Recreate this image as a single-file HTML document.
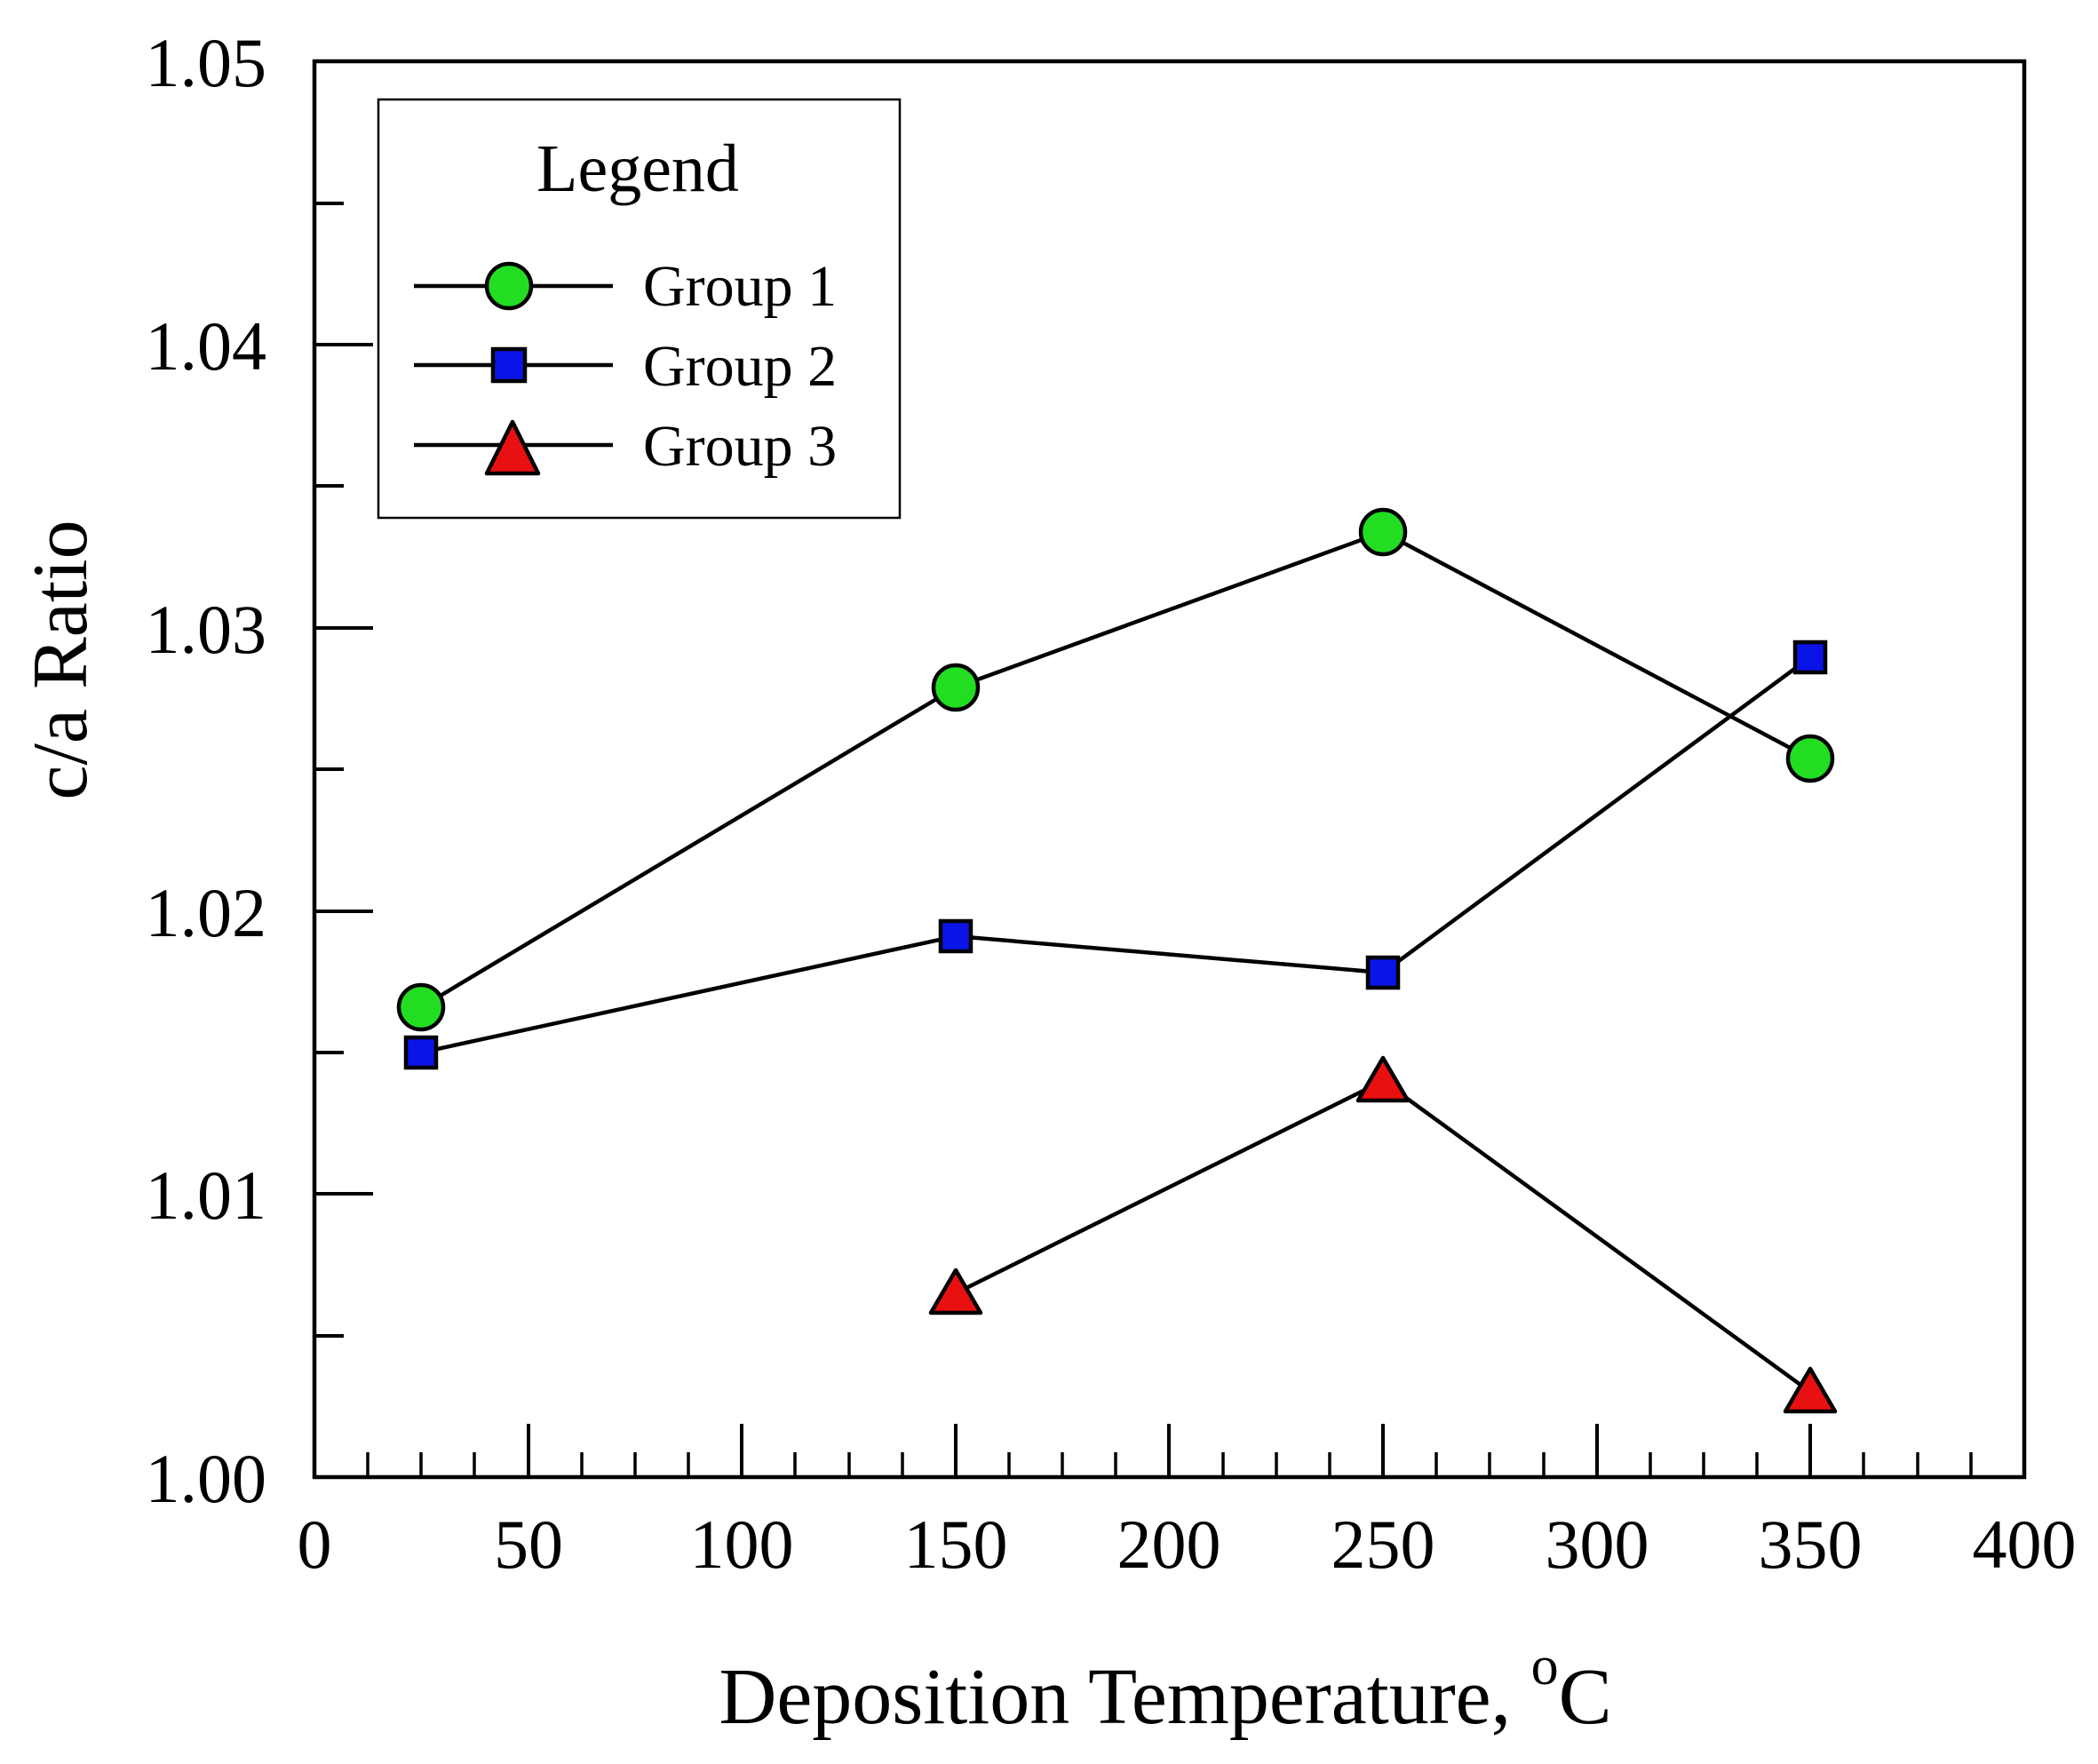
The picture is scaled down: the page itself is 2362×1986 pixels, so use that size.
<!DOCTYPE html>
<html><head><meta charset="utf-8"><style>html,body{margin:0;padding:0;background:#fff}svg{display:block}</style></head>
<body>
<svg width="2362" height="1986" viewBox="0 0 2362 1986" xmlns="http://www.w3.org/2000/svg" font-family="Liberation Serif, serif" fill="#000">
<rect width="2362" height="1986" fill="#fff"/>
<rect x="354" y="69" width="1925" height="1594" fill="none" stroke="#000" stroke-width="4.5"/>
<g stroke="#000" stroke-width="4">
<line x1="354" y1="1344" x2="420" y2="1344"/>
<line x1="354" y1="1026" x2="420" y2="1026"/>
<line x1="354" y1="707" x2="420" y2="707"/>
<line x1="354" y1="388" x2="420" y2="388"/>
<line x1="354" y1="1504" x2="387" y2="1504"/>
<line x1="354" y1="1185" x2="387" y2="1185"/>
<line x1="354" y1="866" x2="387" y2="866"/>
<line x1="354" y1="547" x2="387" y2="547"/>
<line x1="354" y1="229" x2="387" y2="229"/>
<line x1="595" y1="1663" x2="595" y2="1603"/>
<line x1="835" y1="1663" x2="835" y2="1603"/>
<line x1="1076" y1="1663" x2="1076" y2="1603"/>
<line x1="1316" y1="1663" x2="1316" y2="1603"/>
<line x1="1557" y1="1663" x2="1557" y2="1603"/>
<line x1="1798" y1="1663" x2="1798" y2="1603"/>
<line x1="2038" y1="1663" x2="2038" y2="1603"/>
</g>
<g stroke="#000" stroke-width="3.5">
<line x1="414" y1="1663" x2="414" y2="1635"/><line x1="474" y1="1663" x2="474" y2="1635"/><line x1="534" y1="1663" x2="534" y2="1635"/>
<line x1="655" y1="1663" x2="655" y2="1635"/><line x1="715" y1="1663" x2="715" y2="1635"/><line x1="775" y1="1663" x2="775" y2="1635"/>
<line x1="895" y1="1663" x2="895" y2="1635"/><line x1="956" y1="1663" x2="956" y2="1635"/><line x1="1016" y1="1663" x2="1016" y2="1635"/>
<line x1="1136" y1="1663" x2="1136" y2="1635"/><line x1="1196" y1="1663" x2="1196" y2="1635"/><line x1="1256" y1="1663" x2="1256" y2="1635"/>
<line x1="1377" y1="1663" x2="1377" y2="1635"/><line x1="1437" y1="1663" x2="1437" y2="1635"/><line x1="1497" y1="1663" x2="1497" y2="1635"/>
<line x1="1617" y1="1663" x2="1617" y2="1635"/><line x1="1677" y1="1663" x2="1677" y2="1635"/><line x1="1738" y1="1663" x2="1738" y2="1635"/>
<line x1="1858" y1="1663" x2="1858" y2="1635"/><line x1="1918" y1="1663" x2="1918" y2="1635"/><line x1="1978" y1="1663" x2="1978" y2="1635"/>
<line x1="2098" y1="1663" x2="2098" y2="1635"/><line x1="2159" y1="1663" x2="2159" y2="1635"/><line x1="2219" y1="1663" x2="2219" y2="1635"/>
</g>
<g font-size="78" text-anchor="end">
<text x="300" y="1691">1.00</text>
<text x="300" y="1372">1.01</text>
<text x="300" y="1054">1.02</text>
<text x="300" y="735">1.03</text>
<text x="300" y="416">1.04</text>
<text x="300" y="97">1.05</text>
</g>
<g font-size="78" text-anchor="middle">
<text x="354" y="1765">0</text><text x="595" y="1765">50</text><text x="835" y="1765">100</text><text x="1076" y="1765">150</text>
<text x="1316" y="1765">200</text><text x="1557" y="1765">250</text><text x="1798" y="1765">300</text><text x="2038" y="1765">350</text><text x="2279" y="1765">400</text>
</g>
<text x="1312" y="1940" font-size="90" text-anchor="middle">Deposition Temperature, <tspan font-size="62" dy="-44">o</tspan><tspan dy="44">C</tspan></text>
<text transform="translate(97,743) rotate(-90)" font-size="88" text-anchor="middle">c/a Ratio</text>
<g fill="none" stroke="#000" stroke-width="4.5">
<polyline points="474,1134 1076,774 1557,599 2038,854"/>
<polyline points="474,1185 1076,1054 1557,1095 2038,740"/>
<polyline points="1076,1456 1557,1217 2038,1567"/>
</g>
<g stroke="#000" stroke-width="4.5">
<circle cx="474" cy="1134" r="25" fill="#22dd22"/><circle cx="1076" cy="774" r="25" fill="#22dd22"/><circle cx="1557" cy="599" r="25" fill="#22dd22"/><circle cx="2038" cy="854" r="25" fill="#22dd22"/>
<rect x="457" y="1168" width="34" height="34" fill="#0a14e6"/><rect x="1059" y="1037" width="34" height="34" fill="#0a14e6"/><rect x="1540" y="1078" width="34" height="34" fill="#0a14e6"/><rect x="2021" y="723" width="34" height="34" fill="#0a14e6"/>
<polygon points="1076,1430 1104,1478 1048,1478" fill="#e81010" stroke-linejoin="round"/>
<polygon points="1557,1191 1585,1239 1529,1239" fill="#e81010" stroke-linejoin="round"/>
<polygon points="2038,1541 2066,1589 2010,1589" fill="#e81010" stroke-linejoin="round"/>
</g>
<rect x="426" y="112" width="587" height="471" fill="#fff" stroke="#000" stroke-width="2.5"/>
<text x="718" y="215" font-size="76" text-anchor="middle">Legend</text>
<g stroke="#000" stroke-width="4.5">
<line x1="466" y1="322" x2="690" y2="322"/>
<line x1="466" y1="411" x2="690" y2="411"/>
<line x1="466" y1="501" x2="690" y2="501"/>
<circle cx="573" cy="322" r="25" fill="#22dd22"/>
<rect x="555" y="393" width="36" height="36" fill="#0a14e6"/>
<polygon points="577,475 606,533 548,533" fill="#e81010" stroke-linejoin="round"/>
</g>
<g font-size="66">
<text x="724" y="344">Group 1</text>
<text x="724" y="434">Group 2</text>
<text x="724" y="524">Group 3</text>
</g>
</svg>
</body></html>
